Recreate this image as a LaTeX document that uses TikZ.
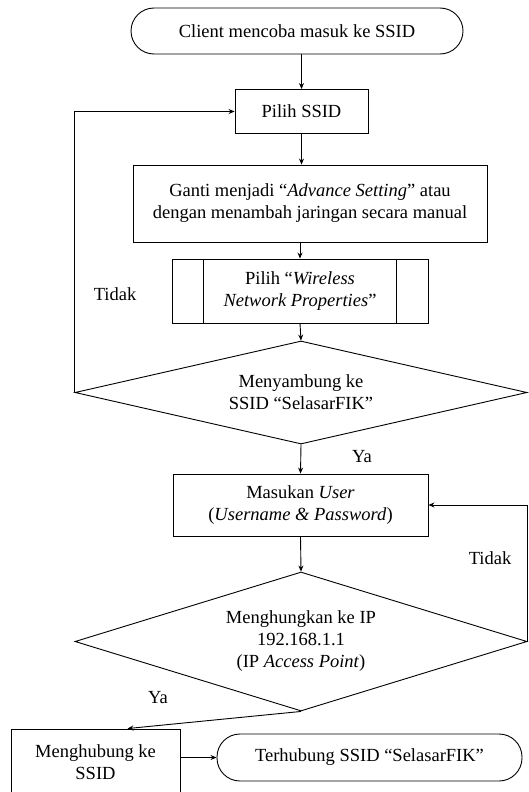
\documentclass[tikz,border=0pt]{standalone}
\usepackage{fontspec}
\setmainfont{LiberationSerif}[Extension=.ttf, UprightFont=*-Regular, ItalicFont=*-Italic, BoldFont=*-Bold, BoldItalicFont=*-BoldItalic]
\usetikzlibrary{shapes.geometric,arrows.meta}
\tikzset{
	box/.style={draw, align=center, inner sep=2pt},
	term/.style={draw, rounded corners=23pt, align=center},
	decision/.style={draw, diamond, align=center, inner sep=0pt},
	flow/.style={-{Stealth[length=6pt,width=5pt]}},
}
\begin{document}
\begin{tikzpicture}[x=1pt, y=-1pt, line width=0.9pt, font=\fontsize{18.5}{22}\selectfont]
	\useasboundingbox (0,0) rectangle (528,792);
	\node[term, minimum width=332pt, minimum height=46pt] (v1) at (297,31) {Client mencoba masuk ke SSID};
	\node[box, minimum width=133pt, minimum height=44pt] (v2) at (301.5,111.5) {Pilih SSID};
	\node[box, minimum width=354pt, minimum height=77pt] (v3) at (310,203.5) {Ganti menjadi “\textit{Advance Setting}” atau\\dengan menambah jaringan secara manual};
	\node[box, minimum width=256pt, minimum height=64pt] (v4) at (300,291) {Pilih “\textit{Wireless}\\\textit{Network Properties}”};
	\node[decision, aspect=4.39, minimum width=452pt, minimum height=103pt] (v5) at (301,392.5) {Menyambung ke\\SSID “SelasarFIK”};
	\node[box, minimum width=255pt, minimum height=62pt] (v6) at (300.5,505) {Masukan \textit{User}\\(\textit{Username \& Password})};
	\node[decision, aspect=3.25, minimum width=452pt, minimum height=139pt] (v7) at (301,641.5) {Menghungkan ke IP\\192.168.1.1\\(IP \textit{Access Point})};
	\node[box, minimum width=169pt, minimum height=66pt] (v8) at (95.5,762) {Menghubung ke\\SSID};
	\node[term, minimum width=305pt, minimum height=47pt] (v9) at (369.5,757.5) {Terhubung SSID “SelasarFIK”};
	\node (l1) at (115,294) {Tidak};
	\node (l2) at (362,457) {Ya};
	\node (l3) at (490,558) {Tidak};
	\node (l4) at (158,698) {Ya};
	\draw ([xshift=32pt]v4.north west) -- ([xshift=32pt]v4.south west);
	\draw ([xshift=-32pt]v4.north east) -- ([xshift=-32pt]v4.south east);
	 \draw[flow] (v2.north |- v1.south) -- (v2.north);
	 \draw[flow] (v2.south) -- (v2.south |- v3.north);
	 \draw[flow] (v4.north |- v3.south) -- (v4.north);
	 \draw[flow] (v4.south) -- (v5.north);
	 \draw[flow] (v5.west) |- (v2.west);
	 \draw[flow] (v5.south) -- (v6.north);
	 \draw[flow] (v6.south) -- (v7.north);
	 \draw[flow] (v7.east) |- (v6.east);
	 \draw[flow] (v7.south) -- ([xshift=32pt]v8.north);
	 \draw[flow] (v8.east |- v9.west) -- (v9.west);
\end{tikzpicture}
\end{document}
